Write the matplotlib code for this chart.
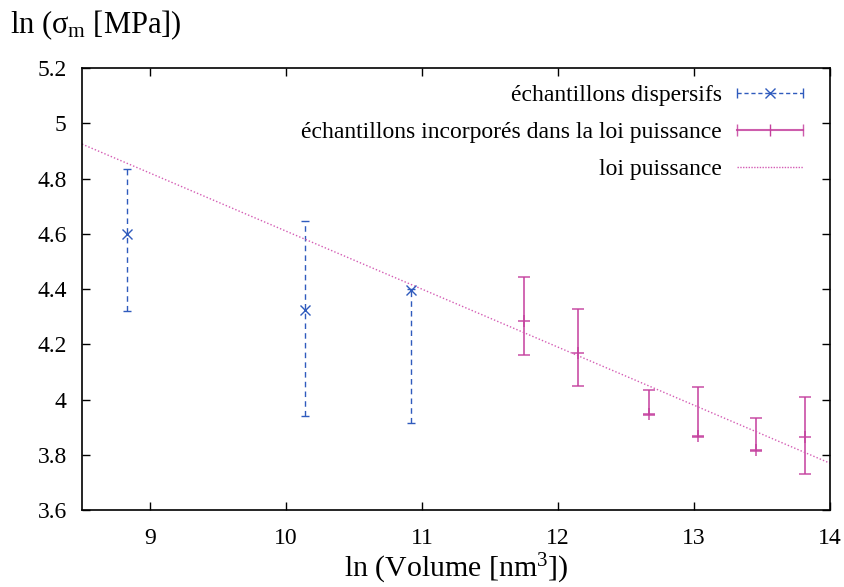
import numpy as np
import matplotlib.pyplot as plt
from matplotlib.lines import Line2D
from matplotlib.legend_handler import HandlerLine2D, HandlerTuple

plt.rcParams['font.family'] = ['Liberation Serif', 'DejaVu Serif']
plt.rcParams['mathtext.fontset'] = 'custom'
plt.rcParams['mathtext.rm'] = 'Liberation Serif'
plt.rcParams['mathtext.it'] = 'Liberation Serif'

# échantillons dispersifs
disp_x = [8.83, 10.14, 10.92]
disp_y = [4.60, 4.325, 4.395]
disp_lo = [4.32, 3.94, 3.915]
disp_hi = [4.835, 4.648, 4.40]

# échantillons incorporés dans la loi puissance
inc_x = [11.75, 12.15, 12.67, 13.03, 13.46, 13.82]
inc_y = [4.285, 4.17, 3.948, 3.87, 3.818, 3.866]
inc_lo = [4.16, 4.05, 3.945, 3.866, 3.815, 3.73]
inc_hi = [4.443, 4.327, 4.035, 4.045, 3.932, 4.01]

# loi puissance : ln(sigma) = a + b ln(V)
law_a = 6.71
law_b = -0.21

blue = '#2f5bbd'
pink = '#c5409e'

fig = plt.figure(figsize=(8.45, 5.87), dpi=100)
ax = fig.add_axes([0.097, 0.131, 0.885, 0.753])

# points dispersifs
yerr = [np.array(disp_y) - np.array(disp_lo), np.array(disp_hi) - np.array(disp_y)]
eb1 = ax.errorbar(disp_x, disp_y, yerr=yerr, fmt='x', color=blue, ms=7, mew=1.0,
                  elinewidth=1.0, capsize=3, capthick=1.0)
eb1[2][0].set_linestyle((0, (4, 3)))

# points incorporés
yerr = [np.array(inc_y) - np.array(inc_lo), np.array(inc_hi) - np.array(inc_y)]
ax.errorbar(inc_x, inc_y, yerr=yerr, fmt='+', color=pink, ms=9, mew=1.2,
            elinewidth=1.3, capsize=4.5, capthick=1.3, alpha=0.85)

# loi puissance
xs = np.linspace(8.5, 14, 200)
ax.plot(xs, law_a + law_b * xs, ls=(0, (1, 1.5)), color='#d45cb4', lw=1.0)

ax.set_xlim(8.5, 14)
ax.set_ylim(3.6, 5.2)
ax.set_xticks(np.arange(9, 14.5, 1))
ax.set_yticks(np.round(np.arange(3.6, 5.21, 0.2), 1))
ax.set_yticklabels(['3.6', '3.8', '4', '4.2', '4.4', '4.6', '4.8', '5', '5.2'])
ax.tick_params(direction='in', length=6, width=1.0, top=True, right=True,
               labelsize=17)
ax.tick_params(axis='x', pad=13)
ax.tick_params(axis='y', pad=11)
for s in ax.spines.values():
    s.set_linewidth(1.2)

ax.set_xlabel(r'ln (Volume [nm$^3$])', fontsize=21.5, labelpad=2)
fig.text(0.012, 0.944, r'ln ($σ_\mathrm{m}$ [MPa])', fontsize=22)

# légende style gnuplot
h1_line = Line2D([], [], color=blue, ls=(0, (3, 2)), lw=1.0, marker='|', ms=7)
h1_mark = Line2D([], [], color=blue, ls='none', marker='x', ms=7)
h2_line = Line2D([], [], color=pink, lw=1.5, marker='|', ms=9, alpha=0.85)
h2_mark = Line2D([], [], color=pink, ls='none', marker='|', ms=9)
h3 = Line2D([], [], color='#d45cb4', ls=(0, (1, 1)), lw=1.0)
hmap = {h1_line: HandlerLine2D(marker_pad=0, numpoints=2),
        h2_line: HandlerLine2D(marker_pad=0, numpoints=2),
        h1_mark: HandlerLine2D(numpoints=1), h2_mark: HandlerLine2D(numpoints=1)}
hmap[tuple] = HandlerTuple(ndivide=1)
leg = ax.legend([(h1_line, h1_mark), (h2_line, h2_mark), h3],
                ['échantillons dispersifs',
                 'échantillons incorporés dans la loi puissance',
                 'loi puissance'],
                handler_map=hmap,
                loc='upper right', bbox_to_anchor=(0.977, 0.984), borderaxespad=0,
                frameon=False, markerfirst=False, fontsize=17, handlelength=2.8,
                handletextpad=0.64, labelspacing=0.66)

fig.savefig('out.png', dpi=100)
